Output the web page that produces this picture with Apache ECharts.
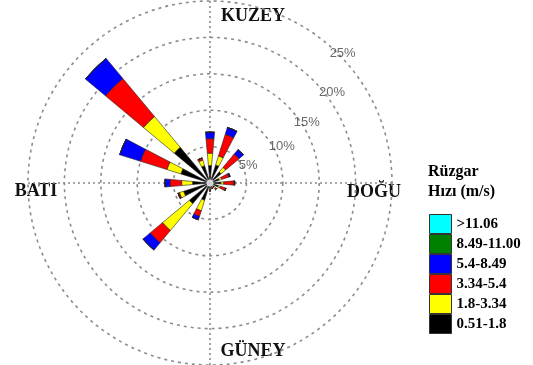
<!DOCTYPE html>
<html><head><meta charset="utf-8">
<script src="https://cdn.jsdelivr.net/npm/echarts@6/dist/echarts.min.js"></script>
<style>html,body{margin:0;padding:0;background:#fff}#c{width:533px;height:365px}</style>
</head><body><div id="c"></div>
<script>
// 16 compass directions, clockwise from north
const directions = ['N','NNE','NE','ENE','E','ESE','SE','SSE','S','SSW','SW','WSW','W','WNW','NW','NNW'];
// speed classes (m/s), innermost first
const speedClasses = ['0.51-1.8','1.8-3.34','3.34-5.4','5.4-8.49','8.49-11.00','>11.06'];
// frequency (%) per direction for each class
const calm051_18  = [2.4, 2.6, 2.0, 1.3, 1.5, 1.2, 0.8, 0.6, 0.7, 2.5, 3.7, 3.8, 2.4, 4.2, 6.4, 2.5];
const light18_334 = [1.7, 1.3, 0.8, 0.4, 0.4, 0.3, 0.2, 0.1, 0.2, 1.5, 4.8, 0.6, 1.5, 2.0, 5.5, 0.8];
const mod334_54   = [2.0, 3.1, 2.4, 1.0, 1.4, 0.8, 0.2, 0.1, 0.2, 0.8, 2.2, 0.2, 1.6, 3.8, 6.8, 0.3];
const fresh54_849 = [0.9, 1.0, 0.8, 0.2, 0.1, 0, 0, 0, 0, 0.5, 1.3, 0, 0.7, 3.0, 3.6, 0];
const strong849_11 = [0, 0, 0, 0, 0, 0, 0, 0, 0, 0, 0, 0, 0, 0, 0, 0];
const gale11      = [0, 0, 0, 0, 0, 0, 0, 0, 0, 0, 0, 0, 0, 0, 0, 0];
const seriesValues = [calm051_18, light18_334, mod334_54, fresh54_849, strong849_11, gale11];
// ring tick labels
const ringTicks = [5, 10, 15, 20, 25];
const ringLabels = ['5%', '10%', '15%', '20%', '25%'];
const compassLabels = ['KUZEY', 'DOĞU', 'GÜNEY', 'BATI'];

const colors = ['#000000', '#ffff00', '#ff0000', '#0000ff', '#008000', '#00ffff'];
// placement of ring labels in polar coords [radius %, bearing deg]
const ringLabelPlace = [[5.8, 64.7], [11.1, 62.8], [15.7, 57.8], [20.9, 53.3], [25.5, 45.6]];
const compassPlace = [[253, 16], [374, 192], [253, 351], [36, 191]];

const C = [210, 183], R = 182;
const chart = echarts.init(document.getElementById('c'), null, {renderer: 'canvas'});
const gridColor = '#8c8c8c';
const hidden = {axisLine: {show: false}, axisTick: {show: false}, axisLabel: {show: false}};

const option = {
  animation: false,
  backgroundColor: '#fff',
  title: {
    text: 'Rüzgar\nHızı (m/s)', left: 428, top: 162, padding: 0,
    textStyle: {fontFamily: 'Liberation Serif', fontWeight: 'bold', fontSize: 16, lineHeight: 20, color: '#000'}
  },
  legend: {
    orient: 'vertical', left: 429, top: 214, padding: 0,
    itemWidth: 22, itemHeight: 19, itemGap: 0, icon: 'rect',
    data: speedClasses.slice().reverse(),
    itemStyle: {borderColor: '#333', borderWidth: 1},
    textStyle: {fontFamily: 'Liberation Serif', fontWeight: 'bold', fontSize: 15, color: '#000'},
    selectedMode: false
  },
  polar: [{center: C, radius: R}, {center: C, radius: R}],
  angleAxis: [
    Object.assign({polarIndex: 0, type: 'category', data: directions, startAngle: 90 + 360 / 32, clockwise: true,
      splitLine: {show: false}}, hidden),
    Object.assign({polarIndex: 1, type: 'value', min: 0, max: 360, interval: 90, startAngle: 90, clockwise: true,
      splitLine: {show: true, lineStyle: {color: gridColor, type: [2, 3], width: 1.6}}}, hidden)
  ],
  radiusAxis: [
    Object.assign({polarIndex: 0, type: 'value', min: 0, max: 25, interval: 5, splitLine: {show: false}}, hidden),
    Object.assign({polarIndex: 1, type: 'value', min: 0, max: 25, interval: 5,
      splitLine: {show: true, lineStyle: {color: gridColor, type: [3, 4], width: 1.6}}}, hidden)
  ],
  graphic: compassLabels.map((t, i) => ({
    type: 'text', x: compassPlace[i][0], y: compassPlace[i][1],
    style: {text: t, font: 'bold 18px "Liberation Serif"', fill: '#111', align: 'center', verticalAlign: 'middle'}
  })),
  series: speedClasses.map((name, i) => ({
    type: 'bar', name: name, coordinateSystem: 'polar', polarIndex: 0, stack: 'wind',
    data: seriesValues[i], barWidth: '46%',
    itemStyle: {color: colors[i], borderColor: '#222', borderWidth: 0.6}
  })).concat([
    {
      type: 'scatter', coordinateSystem: 'polar', polarIndex: 1, symbolSize: 0, clip: false, silent: true,
      data: ringTicks.map((v, i) => ({value: ringLabelPlace[i], label: {formatter: ringLabels[i]}})),
      label: {show: true, position: 'inside', color: '#444', fontSize: 13, fontFamily: 'Liberation Sans'}
    },
    {
      type: 'scatter', coordinateSystem: 'polar', polarIndex: 1, symbolSize: 7, silent: true, z: 5,
      data: [[0, 0]], itemStyle: {color: '#fff'}
    }
  ])
};
chart.setOption(option);
</script></body></html>
